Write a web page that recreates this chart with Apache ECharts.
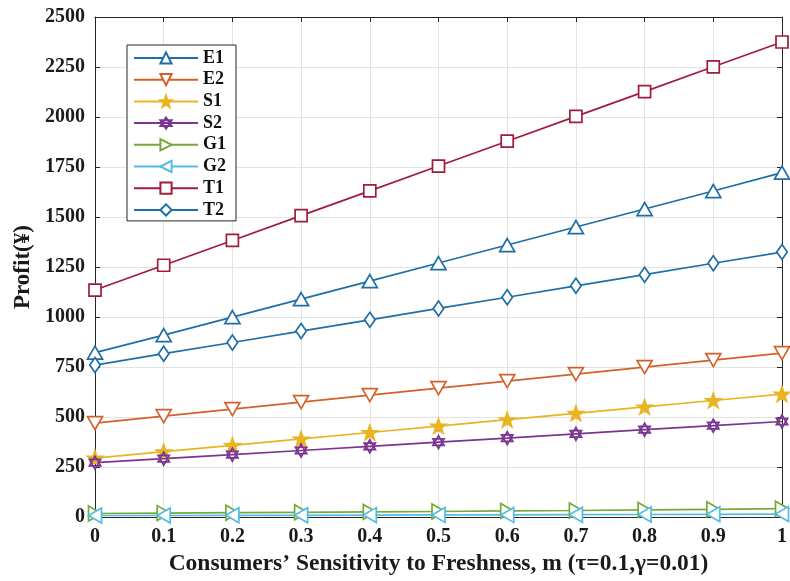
<!DOCTYPE html>
<html><head><meta charset="utf-8">
<script src="https://cdn.jsdelivr.net/npm/echarts@6/dist/echarts.min.js"></script>
<style>html,body{margin:0;padding:0;background:#fff}#c{width:790px;height:581px}</style>
</head><body><div id="c"></div>
<script>
const xValues = [0, 0.1, 0.2, 0.3, 0.4, 0.5, 0.6, 0.7, 0.8, 0.9, 1];
const E1 = [822, 910, 1000, 1090, 1180, 1270, 1360, 1450, 1540, 1630, 1722];
const E2 = [470, 505, 540, 575, 610, 645, 680, 715, 750, 785, 820];
const S1 = [295, 327, 359, 391, 423, 455, 487, 519, 551, 583, 615];
const S2 = [272, 292, 312, 333, 354, 375, 395, 416, 437, 457, 478];
const G1 = [18, 20, 22, 24, 26, 28, 31, 33, 36, 39, 42];
const G2 = [8, 8, 9, 9, 10, 11, 11, 12, 13, 14, 15];
const T1 = [1135, 1259, 1383, 1507, 1631, 1755, 1879, 2003, 2127, 2251, 2375];
const T2 = [760, 817, 873, 930, 986, 1043, 1099, 1156, 1212, 1269, 1325];
const yTicks = [0, 250, 500, 750, 1000, 1250, 1500, 1750, 2000, 2250, 2500];

const FONT = "'Liberation Serif','Times New Roman',serif";
const TRI = 'path://M0,-10L8.66,5L-8.66,5Z';
const TRI_D = 'path://M0,10L8.66,-5L-8.66,-5Z';
const TRI_R = 'path://M10,0L-5,8.66L-5,-8.66Z';
const TRI_L = 'path://M-10,0L5,8.66L5,-8.66Z';
const STAR = 'path://M0,-10L2.35,-3.24L9.51,-3.09L3.8,1.24L5.88,8.09L0,4L-5.88,8.09L-3.8,1.24L-9.51,-3.09L-2.35,-3.24Z';
const HEX = 'path://M0,-10L8.66,5L-8.66,5Z M0,10L8.66,-5L-8.66,-5Z';
const SQ = 'path://M-5,-5L5,-5L5,5L-5,5Z';
const DIA = 'path://M0,-10L7,0L0,10L-7,0Z';

function mk(name, data, color, symbol, size, fill) {
  return {
    name, type: 'line',
    data: xValues.map((x, i) => [x, data[i]]),
    symbol, symbolSize: size,
    symbolKeepAspect: true,
    showAllSymbol: true,
    lineStyle: { color, width: 1.7 },
    itemStyle: { color: fill || '#ffffff', borderColor: color, borderWidth: 1.7 },
    emphasis: { disabled: true },
    z: 3
  };
}

const chart = echarts.init(document.getElementById('c'), null, { renderer: 'canvas' });
chart.setOption({
  animation: false,
  backgroundColor: '#ffffff',
  grid: { left: 95, right: 3, top: 17, bottom: 59, show: false },
  legend: {
    orient: 'vertical', left: 127, top: 45,
    backgroundColor: '#ffffff', borderColor: '#262626', borderWidth: 1,
    padding: [4, 10, 2, 6], itemGap: 3.7, itemWidth: 64, itemHeight: 14,
    textStyle: { fontFamily: FONT, fontWeight: 'bold', fontSize: 18, lineHeight: 18, color: '#111' },
    data: ['E1', 'E2', 'S1', 'S2', 'G1', 'G2', 'T1', 'T2']
  },
  xAxis: [{
    type: 'value', min: 0, max: 1, interval: 0.1,
    name: 'Consumers\u2019 Sensitivity to Freshness, m (\u03c4=0.1,\u03b3=0.01)',
    nameLocation: 'middle', nameGap: 30,
    nameTextStyle: { fontFamily: FONT, fontWeight: 'bold', fontSize: 23.5, color: '#1a1a1a' },
    axisLine: { show: true, lineStyle: { color: '#262626', width: 1 } },
    axisTick: { show: true, inside: true, length: 5, lineStyle: { color: '#262626' } },
    axisLabel: { fontFamily: FONT, fontWeight: 'bold', fontSize: 20, color: '#1a1a1a', margin: 10,
      formatter: v => String(Math.round(v * 10) / 10) },
    splitLine: { show: true, lineStyle: { color: '#e3e3e3', width: 1 } }
  }, {
    type: 'value', min: 0, max: 1, interval: 0.1, position: 'top',
    axisLine: { show: true, onZero: false, lineStyle: { color: '#262626', width: 1 } },
    axisTick: { show: true, inside: true, length: 5, lineStyle: { color: '#262626' } },
    axisLabel: { show: false }, splitLine: { show: false }
  }],
  yAxis: [{
    type: 'value', min: yTicks[0], max: yTicks[yTicks.length - 1], interval: 250,
    name: 'Profit(\u00a5)', nameLocation: 'middle', nameGap: 56,
    nameTextStyle: { fontFamily: FONT, fontWeight: 'bold', fontSize: 23, color: '#1a1a1a' },
    axisLine: { show: true, lineStyle: { color: '#262626', width: 1 } },
    axisTick: { show: true, inside: true, length: 5, lineStyle: { color: '#262626' } },
    axisLabel: { fontFamily: FONT, fontWeight: 'bold', fontSize: 20, color: '#1a1a1a', margin: 10,
      formatter: v => String(v) },
    splitLine: { show: true, lineStyle: { color: '#e3e3e3', width: 1 } }
  }, {
    type: 'value', min: 0, max: 2500, interval: 250, position: 'right',
    axisLine: { show: true, onZero: false, lineStyle: { color: '#262626', width: 1 } },
    axisTick: { show: true, inside: true, length: 5, lineStyle: { color: '#262626' } },
    axisLabel: { show: false }, splitLine: { show: false }
  }],
  series: [
    mk('E1', E1, '#1F6FA6', TRI, 15),
    mk('E2', E2, '#D3602A', TRI_D, 15),
    mk('S1', S1, '#E9B424', STAR, 15, '#E9B424'),
    mk('S2', S2, '#7B3590', HEX, 13),
    mk('G1', G1, '#76A93A', TRI_R, 15),
    mk('G2', G2, '#52BCE6', TRI_L, 15),
    mk('T1', T1, '#A01C3C', SQ, 12),
    mk('T2', T2, '#1F6FA6', DIA, 15)
  ]
});
</script></body></html>
